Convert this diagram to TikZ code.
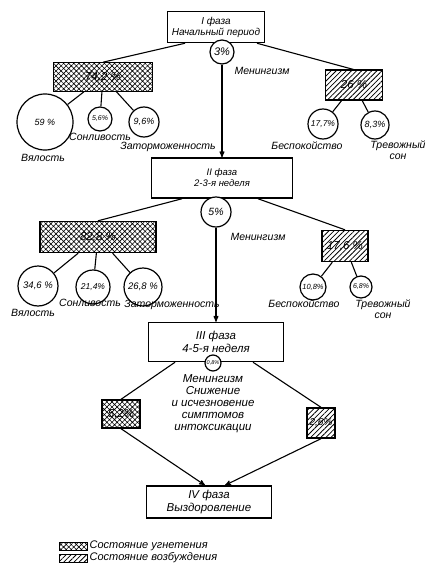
\documentclass[tikz,border=0pt]{standalone}
\usepackage{fontspec}
\setmainfont{Liberation Sans}
\usetikzlibrary{shapes, arrows, patterns.meta, positioning}
\tikzstyle{phase} = [rectangle, minimum width=97pt, minimum height=31pt, text centered, draw=black, line width=1.5pt, fill=white, inner sep=1pt, font=\itshape\fontsize{10}{11}\selectfont]
\tikzstyle{depress} = [rectangle, draw=black, line width=1.4pt, inner sep=0pt, pattern={Hatch[angle=45, distance=3.6pt, line width=0.6pt]}, font=\itshape\fontsize{11.5}{12}\selectfont]
\tikzstyle{excite} = [rectangle, draw=black, line width=1.4pt, inner sep=0pt, pattern={Lines[angle=45, distance=3.6pt, line width=0.8pt]}, font=\itshape\fontsize{11.5}{12}\selectfont]
\tikzstyle{share} = [circle, draw=black, line width=1.2pt, fill=white, inner sep=0pt, font=\itshape\fontsize{9}{10}\selectfont]
\tikzstyle{note} = [inner sep=0pt, text centered, font=\itshape\fontsize{10.5}{11.5}\selectfont]
\tikzstyle{link} = [line width=1.1pt]
\tikzstyle{arrow} = [line width=1.1pt,->,>=stealth']

\begin{document}
\begin{tikzpicture}[x=1pt, y=-1pt, align=center]
    \useasboundingbox (0,0) rectangle (430,575);

    \node (ph1) [phase] at (216,27) {I фаза\\Начальный период};
    \node (dep1) [depress, minimum width=99pt, minimum height=29pt] at (103,77) {74,2 \%};
    \node (exc1) [excite, minimum width=57pt, minimum height=30pt] at (354,85) {26 \%};
    \draw [link] ([xshift=-31pt]ph1.south) -- (dep1.north);
    \draw [link] ([xshift=41pt]ph1.south) -- (exc1.north);
    \node (men1) [share, minimum size=24pt, font=\itshape\fontsize{11}{12}\selectfont] at (222,52) {3\%};
    \node (men1t) [note] at (262,71) {Менингизм};

    \node (v1) [share, minimum size=56pt] at (45,122) {59 \%};
    \node (s1) [share, minimum size=24pt, font=\itshape\fontsize{7}{8}\selectfont] at (100,119) {5,6\%};
    \node (z1) [share, minimum size=30pt, font=\itshape\fontsize{9}{10}\selectfont] at (144,122) {9,6\%};
    \node (b1) [share, minimum size=30pt, font=\itshape\fontsize{8.5}{9}\selectfont] at (323,124) {17,7\%};
    \node (t1) [share, minimum size=28pt, font=\itshape\fontsize{9}{10}\selectfont] at (375,125) {8,3\%};
    \draw [link] (dep1) -- (v1);
    \draw [link] (dep1) -- (s1);
    \draw [link] (dep1) -- (z1);
    \draw [link] (exc1) -- (b1);
    \draw [link] (exc1) -- (t1);
    \node (v1t) [note] at (43,158) {Вялость};
    \node (s1t) [note] at (100,137) {Сонливость};
    \node (z1t) [note] at (168,147) {Заторможенность};
    \node (b1t) [note] at (307,146) {Беспокойство};
    \node (t1t) [note] at (398,150) {Тревожный\\сон};

    \node (ph2) [phase, minimum width=141pt, minimum height=40pt, font=\itshape\fontsize{9.5}{11}\selectfont] at (222,178) {II фаза\\2-3-я неделя};
    \draw [arrow] (men1) -- (ph2);
    \node (dep2) [depress, minimum width=116pt, minimum height=31pt] at (98,237) {82,8 \%};
    \node (exc2) [excite, minimum width=46pt, minimum height=31pt] at (345,246) {17,6 \%};
    \draw [link] ([xshift=-40pt]ph2.south) -- (dep2.north);
    \draw [link] ([xshift=36pt]ph2.south) -- (exc2.north);
    \node (men2) [share, minimum size=30pt, font=\itshape\fontsize{10.5}{11}\selectfont] at (216,212) {5\%};
    \node (men2t) [note] at (258,237) {Менингизм};

    \node (v2) [share, minimum size=40pt, font=\itshape\fontsize{9.5}{10}\selectfont] at (38,286) {34,6 \%};
    \node (s2) [share, minimum size=34pt, font=\itshape\fontsize{8.5}{10}\selectfont] at (93,287) {21,4\%};
    \node (z2) [share, minimum size=38pt, font=\itshape\fontsize{9.5}{10}\selectfont] at (143,287) {26,8 \%};
    \node (b2) [share, minimum size=26pt, font=\itshape\fontsize{7.5}{8}\selectfont] at (313,287) {10,8\%};
    \node (t2) [share, minimum size=22pt, font=\itshape\fontsize{7}{8}\selectfont] at (361,287) {6,8\%};
    \draw [link] (dep2) -- (v2);
    \draw [link] (dep2) -- (s2);
    \draw [link] (dep2) -- (z2);
    \draw [link] (exc2) -- (b2);
    \draw [link] (exc2) -- (t2);
    \node (v2t) [note] at (33,313) {Вялость};
    \node (s2t) [note] at (90,303) {Сонливость};
    \node (z2t) [note] at (172,305) {Заторможенность};
    \node (b2t) [note] at (304,304) {Беспокойство};
    \node (t2t) [note] at (383,309) {Тревожный\\сон};

    \node (ph3) [phase, minimum width=135pt, minimum height=39pt, font=\itshape\fontsize{11.5}{12.5}\selectfont] at (216,342) {III фаза\\4-5-я неделя};
    \draw [arrow] (men2) -- (ph3);
    \node (dep3) [depress, minimum width=38pt, minimum height=28pt] at (121,414) {5,2\%};
    \node (exc3) [excite, minimum width=28pt, minimum height=30pt, font=\itshape\fontsize{10}{11}\selectfont] at (321,423) {2,6\%};
    \draw [link] ([xshift=-41pt]ph3.south) -- (dep3.north);
    \draw [link] ([xshift=37pt]ph3.south) -- (exc3.north);
    \node (men3) [share, minimum size=16pt, font=\itshape\fontsize{5.5}{6}\selectfont] at (213,363) {0,8\%};
    \node (men3t) [note, font=\itshape\fontsize{11.5}{12}\selectfont] at (213,404) {Менингизм\\Снижение\\и исчезновение\\симптомов\\интоксикации};

    \node (ph4) [phase, minimum width=125pt, minimum height=32pt, font=\itshape\fontsize{11.5}{12.5}\selectfont] at (209,502) {IV фаза\\Выздоровление};
    \draw [arrow] (dep3.south) -- ([xshift=-4pt]ph4.north);
    \draw [arrow] (exc3.south) -- ([xshift=16pt]ph4.north);

    \node (key1) [depress, line width=0.9pt, minimum width=28pt, minimum height=8pt] at (73,546) {};
    \node (key2) [excite, line width=0.9pt, minimum width=28pt, minimum height=8pt] at (73,558) {};
    \node (key1t) [note, right=2pt of key1, font=\itshape\fontsize{11}{12}\selectfont] {Состояние угнетения};
    \node (key2t) [note, right=2pt of key2, font=\itshape\fontsize{11}{12}\selectfont] {Состояние возбуждения};
\end{tikzpicture}
\end{document}
